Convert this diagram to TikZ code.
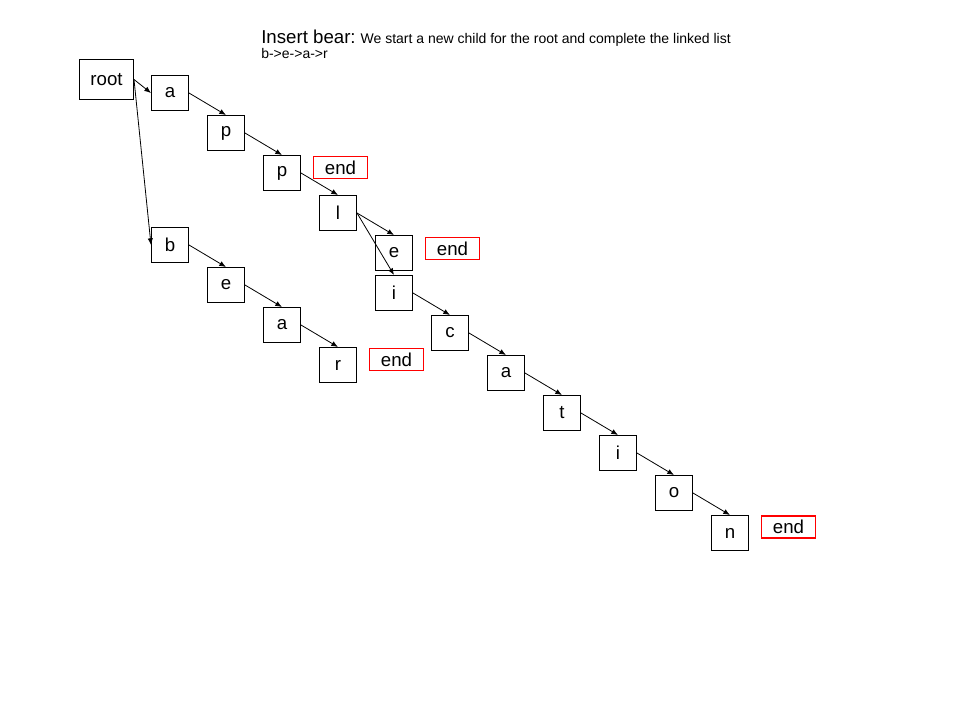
\documentclass[tikz,border=0pt]{standalone}
\usepackage{fontspec}
\setmainfont{Liberation Sans}
\usetikzlibrary{arrows.meta}
\tikzset{
  letter/.style={draw,line width=0.75pt,minimum width=27.75pt,minimum height=26.25pt,inner sep=0pt,font=\fontsize{14}{16}\selectfont},
  rootbox/.style={letter,minimum width=40.5pt,minimum height=30pt},
  endbox/.style={draw=red,line width=1.1pt,minimum width=40.5pt,minimum height=16.5pt,inner sep=0pt,font=\fontsize{14}{16}\selectfont},
  link/.style={-{Latex[length=5pt,width=4pt]},line width=0.6pt}
}
\begin{document}
\begin{tikzpicture}[x=0.75pt,y=-0.75pt]
\useasboundingbox (0,0) rectangle (960,720);
\node[anchor=base west,inner sep=0pt] (title) at (261,44) {{\fontsize{14}{16}\selectfont Insert bear:} {\fontsize{10.5}{12}\selectfont We start a new child for the root and complete the linked list}};
\node[anchor=base west,inner sep=0pt,font=\fontsize{10.5}{12}\selectfont] (path) at (261,58.5) {b->e->a->r};
\node[rootbox] (root) at (106.5,79.5) {root};
\node[letter] (a1) at (170,93) {a};
\node[letter] (p1) at (226,133) {p};
\node[letter] (p2) at (282,173) {p};
\node[letter] (l1) at (338,213) {l};
\node[letter] (e1) at (394,253) {e};
\node[letter] (i1) at (394,293) {i};
\node[letter] (c1) at (450,333) {c};
\node[letter] (a2) at (506,373) {a};
\node[letter] (t1) at (562,413) {t};
\node[letter] (i2) at (618,453) {i};
\node[letter] (o1) at (674,493) {o};
\node[letter] (n1) at (730,533) {n};
\node[letter] (b1) at (170,245) {b};
\node[letter] (e2) at (226,285) {e};
\node[letter] (a3) at (282,325) {a};
\node[letter] (r1) at (338,365) {r};
\node[endbox] (end1) at (340.5,167.5) {end};
\node[endbox] (end2) at (452.5,248.5) {end};
\node[endbox] (end3) at (396.5,359.5) {end};
\node[endbox] (end4) at (788.5,527) {end};
\draw[link] (root.east) -- (a1.west);
\draw[link] (root.east) -- (b1.west);
\draw[link] (a1.east) -- (p1.north);
\draw[link] (p1.east) -- (p2.north);
\draw[link] (p2.east) -- (l1.north);
\draw[link] (l1.east) -- (e1.north);
\draw[link] (l1.east) -- (i1.north);
\draw[link] (i1.east) -- (c1.north);
\draw[link] (c1.east) -- (a2.north);
\draw[link] (a2.east) -- (t1.north);
\draw[link] (t1.east) -- (i2.north);
\draw[link] (i2.east) -- (o1.north);
\draw[link] (o1.east) -- (n1.north);
\draw[link] (b1.east) -- (e2.north);
\draw[link] (e2.east) -- (a3.north);
\draw[link] (a3.east) -- (r1.north);
\end{tikzpicture}
\end{document}
